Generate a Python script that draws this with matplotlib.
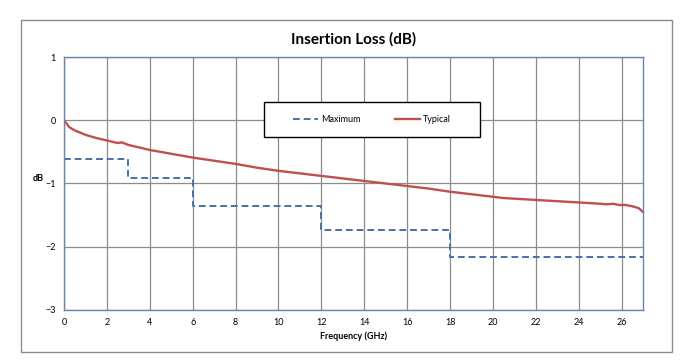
import numpy as np
import matplotlib
matplotlib.use("Agg")
import matplotlib.pyplot as plt
from matplotlib.patches import Rectangle

# --- data ---
typ_freq = [0, 0.25, 0.5, 1, 1.5, 2, 2.5, 2.7, 3, 3.5, 4, 5, 6, 7, 8, 9, 10,
            11, 12, 13, 14, 15, 16, 17, 18, 19, 20, 20.5, 21, 21.5, 22, 22.5,
            23, 23.5, 24, 24.5, 25, 25.3, 25.6, 25.9, 26.2, 26.5, 26.8, 27]
typ_loss = [0, -0.11, -0.16, -0.23, -0.28, -0.32, -0.36, -0.35, -0.39, -0.43,
            -0.47, -0.53, -0.59, -0.64, -0.69, -0.75, -0.80, -0.84, -0.88,
            -0.92, -0.96, -1.00, -1.04, -1.08, -1.13, -1.17, -1.21, -1.23,
            -1.24, -1.25, -1.26, -1.27, -1.28, -1.29, -1.30, -1.31, -1.32,
            -1.33, -1.32, -1.34, -1.34, -1.36, -1.39, -1.45]

max_freq = [0, 3, 6, 12, 18, 27]
max_loss = [-0.62, -0.92, -1.36, -1.73, -2.16, -2.16]

xticks = list(range(0, 27, 2))
yticks = [-3, -2, -1, 0, 1]

plt.rcParams['font.family'] = ['Lato', 'DejaVu Sans']

fig = plt.figure(figsize=(6.82, 3.64), dpi=100)
# outer chart border
fig.patches.append(Rectangle((0.031, 0.033), 0.954, 0.912, transform=fig.transFigure,
                             fill=False, edgecolor='#8c8c8c', linewidth=1))

ax = fig.add_axes([0.0938, 0.1484, 0.8490, 0.6950])

ax.plot(max_freq, max_loss, drawstyle='steps-post', color='#4a70a8',
        linestyle=(0, (3.5, 2)), linewidth=1.4, label='Maximum')
ax.plot(typ_freq, typ_loss, color='#c0504d', linewidth=1.7, label='Typical')

ax.set_xlim(0, 27)
ax.set_ylim(-3, 1)
ax.set_xticks(xticks)
ax.set_yticks(yticks)
ax.grid(True, color='#8c8c8c', linewidth=0.9)
ax.set_axisbelow(True)
ax.tick_params(length=0, labelsize=6.5, pad=6)
for s in ax.spines.values():
    s.set_color('#6b84b0')
    s.set_linewidth(1)

ax.set_title('Insertion Loss (dB)', fontsize=11, fontweight='bold', pad=10)
ax.set_xlabel('Frequency (GHz)', fontsize=6.5, fontweight='bold', labelpad=3)
ax.set_ylabel('dB', fontsize=6.5, fontweight='bold', rotation=0, labelpad=4)
ax.yaxis.set_label_coords(-0.045, 0.5)

# legend box (white, black border) with a frameless legend centred inside
ax.add_patch(Rectangle((0.345, 0.684), 0.373, 0.138, transform=ax.transAxes,
                       facecolor='white', edgecolor='black', linewidth=1,
                       zorder=5))
leg = ax.legend(loc='center', bbox_to_anchor=(0.5315, 0.753), ncol=2,
                fontsize=6.5, frameon=False, borderaxespad=0,
                handlelength=2.8, handletextpad=0.3, columnspacing=3.8)
leg.set_zorder(6)

fig.savefig('out.png', dpi=100)
